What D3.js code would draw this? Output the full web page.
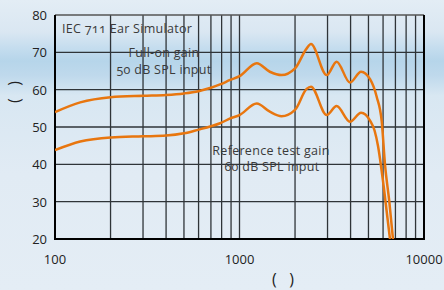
<!DOCTYPE html>
<html>
<head>
<meta charset="UTF-8">
<script src="https://cdn.jsdelivr.net/npm/d3@7/dist/d3.min.js"></script>
<style>
  body { margin: 0; background: #e4edf5; }
  svg { display: block; }
  text { font-family: "Open Sans", "Noto Sans", sans-serif; }
</style>
</head>
<body>
<div id="chart"></div>
<script>
    // frequency (Hz) / gain (dB)
    var fullOnFreq = [100, 137, 200, 300, 400, 500, 600, 700, 785, 890, 1000, 1240, 1460, 1690, 2000, 2310, 2440, 2970, 3360, 3970, 4560, 5100, 5540, 5900, 6145, 6486, 6790];
    var fullOnGain = [54.0, 56.6, 58.0, 58.4, 58.6, 59.0, 59.6, 60.5, 61.4, 62.6, 63.6, 67.1, 64.8, 63.9, 65.7, 71.0, 72.2, 63.9, 67.5, 61.9, 64.8, 62.8, 58.1, 51.5, 40.0, 30.0, 20.0];

    var refFreq = [100, 137, 200, 300, 400, 500, 600, 700, 785, 890, 1000, 1240, 1460, 1690, 2000, 2310, 2440, 2970, 3360, 3970, 4560, 5100, 5400, 5630, 6050, 6540];
    var refGain = [43.8, 46.1, 47.2, 47.5, 47.7, 48.3, 49.3, 50.2, 51.0, 52.3, 53.2, 56.3, 54.1, 52.9, 54.6, 60.2, 60.8, 53.2, 55.6, 51.4, 53.8, 51.7, 49.0, 45.0, 34.0, 20.0];

    var yTicks = [20, 30, 40, 50, 60, 70, 80];
    var xLabels = [100, 1000, 10000];
    var xGrid = [200, 300, 400, 500, 600, 700, 800, 900, 1000, 2000, 3000, 4000, 5000, 6000, 7000, 8000, 9000];

    var width = 444, height = 290;
    var margin = {left: 55, right: 20, top: 15, bottom: 51};

    var svg = d3.select("#chart").append("svg")
            .attr("width", width)
            .attr("height", height);

    // pale blue backdrop with the brighter band
    var defs = svg.append("defs");
    var grad = defs.append("linearGradient")
            .attr("id", "bg").attr("x1", 0).attr("y1", 0).attr("x2", 0).attr("y2", 1);
    [["0%", "#e3edf5"], ["11%", "#dae7f2"], ["17%", "#c3dcee"], ["21%", "#b6d5ea"],
     ["26%", "#bfd9ec"], ["33%", "#d8e7f2"], ["60%", "#e1ebf4"], ["100%", "#e4edf5"]]
        .forEach(function(s) {
            grad.append("stop").attr("offset", s[0]).attr("stop-color", s[1]);
        });
    svg.append("rect").attr("width", width).attr("height", height).attr("fill", "url(#bg)");

    var x = d3.scaleLog().domain([100, 10000]).range([margin.left, width - margin.right]);
    var y = d3.scaleLinear().domain([20, 80]).range([height - margin.bottom, margin.top]);

    defs.append("clipPath").attr("id", "plot")
        .append("rect")
        .attr("x", x(100)).attr("y", y(80))
        .attr("width", x(10000) - x(100)).attr("height", y(20) - y(80));

    // grid
    var grid = svg.append("g");
    grid.selectAll(".vg").data(xGrid).enter().append("line")
        .attr("x1", function(d) { return x(d); })
        .attr("x2", function(d) { return x(d); })
        .attr("y1", y(80)).attr("y2", y(20))
        .attr("stroke", "#2f3438").attr("stroke-width", 1.3);
    grid.selectAll(".hg").data(yTicks.slice(1, -1)).enter().append("line")
        .attr("x1", x(100)).attr("x2", x(10000))
        .attr("y1", function(d) { return y(d); })
        .attr("y2", function(d) { return y(d); })
        .attr("stroke", "#2f3438").attr("stroke-width", 1.3);

    // frame
    svg.append("line").attr("x1", x(100)).attr("x2", x(10000)).attr("y1", y(80)).attr("y2", y(80))
        .attr("stroke", "#555").attr("stroke-width", 1.5);
    svg.append("line").attr("x1", x(100)).attr("x2", x(100)).attr("y1", y(80)).attr("y2", y(20))
        .attr("stroke", "#000").attr("stroke-width", 2);
    svg.append("line").attr("x1", x(10000)).attr("x2", x(10000)).attr("y1", y(80)).attr("y2", y(20))
        .attr("stroke", "#000").attr("stroke-width", 2);
    svg.append("line").attr("x1", x(100) - 1).attr("x2", x(10000) + 1).attr("y1", y(20)).attr("y2", y(20))
        .attr("stroke", "#000").attr("stroke-width", 2);

    // tick labels
    svg.append("g").selectAll("text").data(yTicks).enter().append("text")
        .attr("x", x(100) - 8)
        .attr("y", function(d) { return y(d) + 5; })
        .attr("text-anchor", "end")
        .attr("font-size", 13)
        .attr("fill", "#222")
        .text(function(d) { return d; });
    svg.append("g").selectAll("text").data(xLabels).enter().append("text")
        .attr("x", function(d) { return x(d); })
        .attr("y", 264)
        .attr("text-anchor", "middle")
        .attr("font-size", 13)
        .attr("fill", "#222")
        .text(function(d) { return d; });

    // axis titles
    svg.append("text")
        .attr("x", 283).attr("y", 285)
        .attr("text-anchor", "middle")
        .attr("font-size", 16).attr("fill", "#222")
        .attr("xml:space", "preserve")
        .text("(   )");
    svg.append("text")
        .attr("transform", "translate(20,92) rotate(-90)")
        .attr("text-anchor", "middle")
        .attr("font-size", 16).attr("fill", "#222")
        .attr("xml:space", "preserve")
        .text("(   )");

    // curves
    var line = d3.line()
            .x(function(d) { return x(d[0]); })
            .y(function(d) { return y(d[1]); })
            .curve(d3.curveMonotoneX);

    var curves = svg.append("g").attr("clip-path", "url(#plot)");
    [[fullOnFreq, fullOnGain], [refFreq, refGain]].forEach(function(s) {
        curves.append("path")
            .datum(d3.zip(s[0], s[1]))
            .attr("d", line)
            .attr("fill", "none")
            .attr("stroke", "#e8760f")
            .attr("stroke-width", 2.5)
            .attr("stroke-linejoin", "round");
    });

    // annotations
    var notes = [
        {t: "IEC 711 Ear Simulator", x: 62, y: 33, a: "start"},
        {t: "Full-on gain", x: 164, y: 57, a: "middle"},
        {t: "50 dB SPL input", x: 164, y: 74, a: "middle"},
        {t: "Reference test gain", x: 271, y: 155, a: "middle"},
        {t: "60 dB SPL input", x: 272, y: 171, a: "middle"}
    ];
    svg.append("g").selectAll("text").data(notes).enter().append("text")
        .attr("x", function(d) { return d.x; })
        .attr("y", function(d) { return d.y; })
        .attr("text-anchor", function(d) { return d.a; })
        .attr("font-size", 12.5)
        .attr("letter-spacing", 0.3)
        .attr("fill", "#3a3a3a")
        .style("font-variant-numeric", "oldstyle-nums")
        .text(function(d) { return d.t; });
</script>
</body>
</html>
